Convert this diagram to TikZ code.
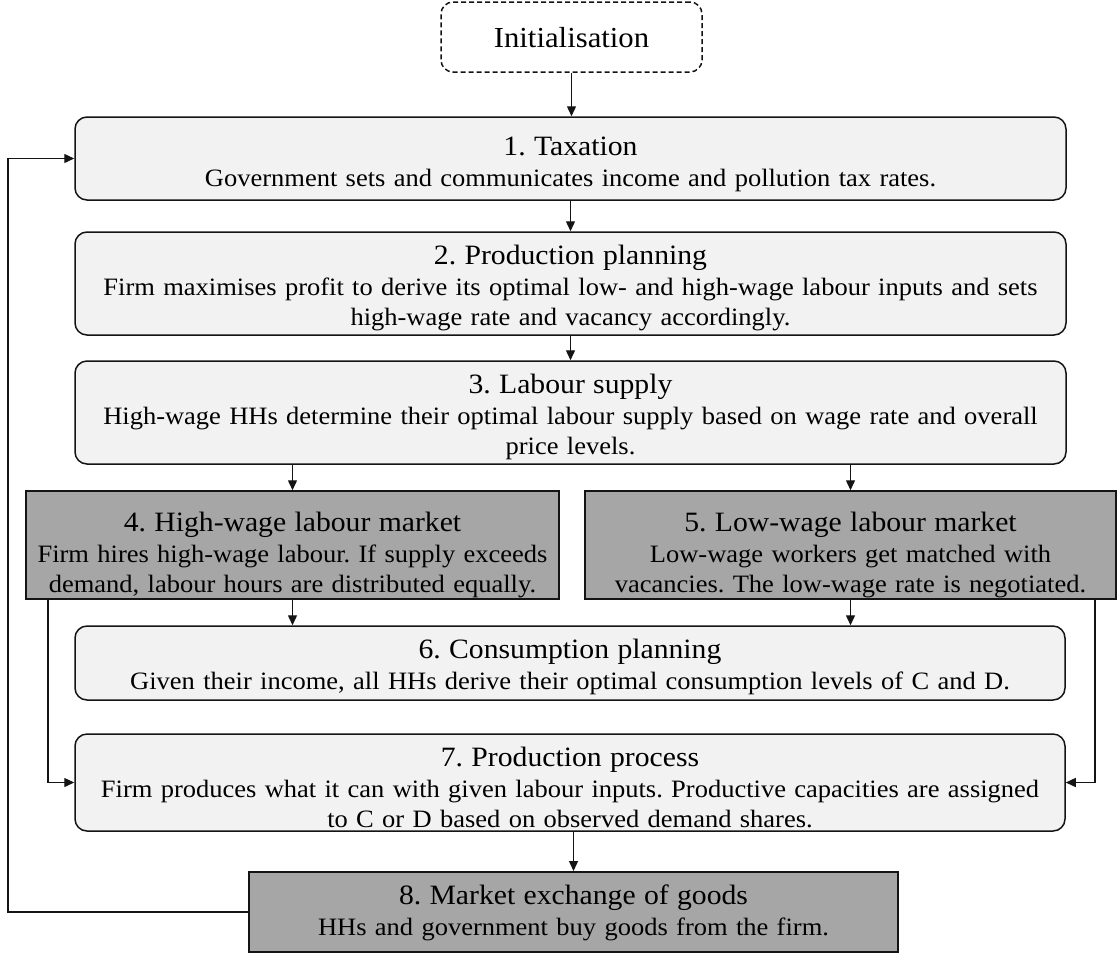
\documentclass[tikz,border=0pt]{standalone}
\usepackage{fontspec}
\setmainfont{Liberation Serif}[FakeStretch=1.06]
\usetikzlibrary{arrows.meta}
\definecolor{lightfill}{HTML}{F2F2F2}
\definecolor{darkfill}{HTML}{A6A6A6}
\definecolor{edge}{HTML}{141414}
\newcommand{\ttlfont}{\fontsize{28}{32}\selectfont}
\newcommand{\dscfont}{\fontsize{25}{29.5}\selectfont}
\newcommand{\ttl}[1]{{\ttlfont #1}\\[2pt]}
\frenchspacing
\begin{document}
\begin{tikzpicture}[x=1pt,y=-1pt,
  boxbase/.style={draw=edge, line width=1.5pt, inner sep=0pt, align=center, font=\dscfont},
  soft/.style={boxbase, fill=lightfill, rounded corners=12pt},
  hard/.style={boxbase, fill=darkfill},
  conn/.style={draw=edge, line width=1.4pt, -{Triangle[length=10pt,width=9pt]}},
]
\useasboundingbox (0,0) rectangle (1118,954);

\node[soft, fill=white, dash pattern=on 5pt off 3pt, text width=261pt, text height=45pt, text depth=25pt] (init) at (571.5,37) {\fontsize{29}{32}\selectfont Initialisation};

\node[soft, text width=991pt, text height=38pt, text depth=45pt] (b1) at (570.5,158.5)
  {\ttl{1. Taxation}Government sets and communicates income and pollution tax rates.};

\node[soft, text width=991pt, text height=32pt, text depth=71pt] (b2) at (570.5,283.5)
  {\ttl{2. Production planning}Firm maximises profit to derive its optimal low- and high-wage labour inputs and sets\\ high-wage rate and vacancy accordingly.};

\node[soft, text width=991pt, text height=32pt, text depth=71pt] (b3) at (570.5,412.5)
  {\ttl{3. Labour supply}High-wage HHs determine their optimal labour supply based on wage rate and overall\\ price levels.};

\node[hard, text width=533pt, text height=40pt, text depth=68pt] (b4) at (292.5,545)
  {\ttl{4. High-wage labour market}Firm hires high-wage labour. If supply exceeds\\ demand, labour hours are distributed equally.};

\node[hard, text width=531pt, text height=40pt, text depth=68pt] (b5) at (850.5,545)
  {\ttl{5. Low-wage labour market}Low-wage workers get matched with\\ vacancies. The low-wage rate is negotiated.};

\node[soft, text width=990pt, text height=32pt, text depth=42pt] (b6) at (570,663)
  {\ttl{6. Consumption planning}Given their income, all HHs derive their optimal consumption levels of C and D.};

\node[soft, text width=990pt, text height=32pt, text depth=65pt] (b7) at (570,782.5)
  {\ttl{7. Production process}Firm produces what it can with given labour inputs. Productive capacities are assigned\\ to C or D based on observed demand shares.};

\node[hard, line width=2pt, text width=649pt, text height=32pt, text depth=48pt] (b8) at (573.5,912)
  {\ttl{8. Market exchange of goods}HHs and government buy goods from the firm.};

\coordinate (loopx) at (8,0);
\coordinate (leftx) at (48,0);
\coordinate (rightx) at (1095,0);

\draw[conn] (init.south) -- (init.south |- b1.north);
\draw[conn] (b1.south) -- (b2.north);
\draw[conn] (b2.south) -- (b3.north);
\draw[conn] (b3.south -| b4.north) -- (b4.north);
\draw[conn] (b3.south -| b5.north) -- (b5.north);
\draw[conn] (b4.south) -- (b4.south |- b6.north);
\draw[conn] (b5.south) -- (b5.south |- b6.north);
\draw[conn] (b4.south -| leftx) |- (b7.west);
\draw[conn] (b5.south -| rightx) |- (b7.east);
\draw[conn] (b8.north |- b7.south) -- (b8.north);
\draw[conn] (b8.west) -- (b8.west -| loopx) |- (b1.west);
\end{tikzpicture}
\end{document}
